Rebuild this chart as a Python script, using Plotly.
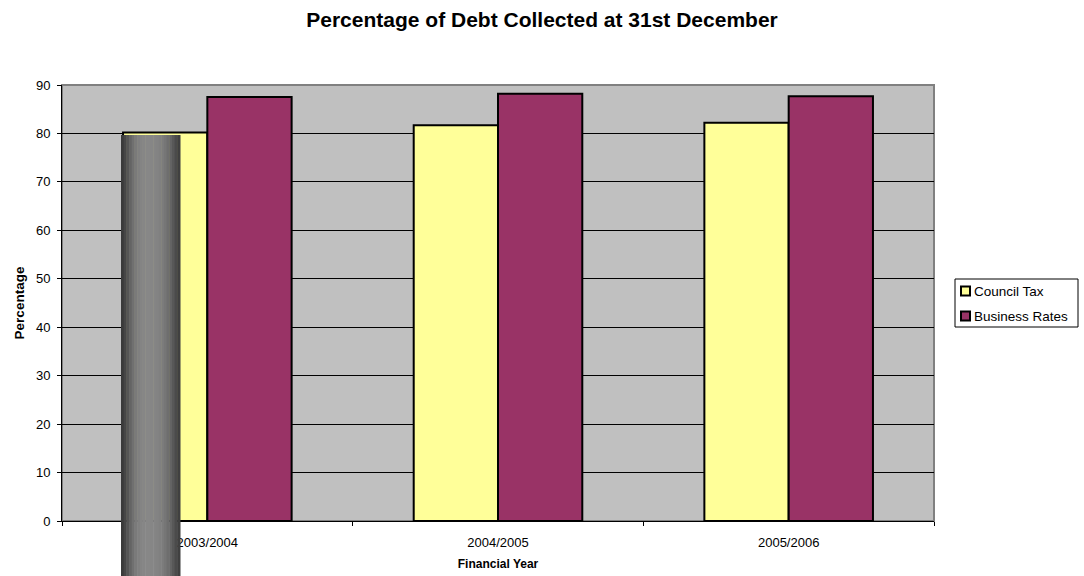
import plotly.graph_objects as go

categories = ["2003/2004", "2004/2005", "2005/2006"]
council_tax = [80.2, 81.7, 82.2]
business_rates = [87.5, 88.2, 87.7]
y_ticks = [0, 10, 20, 30, 40, 50, 60, 70, 80, 90]
series_names = ["Council Tax", "Business Rates"]
series_colors = ["#FFFF99", "#993366"]

W, H = 1084, 576
L, R, T, B = 62, 150, 85, 55
pw, ph = W - L - R, H - T - B


def px_x(p):
    return (p - L) / pw


def px_y(p):
    return (H - B - p) / ph


fig = go.Figure()
for name, vals, col in zip(series_names, [council_tax, business_rates], series_colors):
    fig.add_trace(go.Bar(x=categories, y=vals, name=name,
                         marker=dict(color=col, line=dict(color="black", width=2))))

# plot area border (top/right grey)
shapes = [dict(type="rect", xref="paper", yref="paper", x0=0, x1=1, y0=0, y1=1,
               line=dict(color="#808080", width=2), layer="below")]

# grey gradient overlay (screenshot artifact)
x_start, x_end = 121, 180
levels = [58, 70, 85, 100, 112, 122, 128, 132, 134, 135, 135, 134, 133, 131, 128, 124, 118,
          110, 100, 88, 75, 64]
n = len(levels)
step = (x_end - x_start) / n
for i, g in enumerate(levels):
    c = f"rgb({g},{g},{g})"
    shapes.append(dict(type="rect", xref="paper", yref="paper",
                       x0=px_x(x_start + i * step), x1=px_x(x_start + (i + 1) * step + 0.5),
                       y0=px_y(H + 2), y1=px_y(135),
                       fillcolor=c, line=dict(width=0), layer="above"))

# custom legend (box, swatches, text)
annotations = []
shapes.append(dict(type="rect", xref="paper", yref="paper",
                   x0=px_x(955), x1=px_x(1078), y0=px_y(327), y1=px_y(279),
                   line=dict(color="black", width=1), fillcolor="white"))
for i, (name, col) in enumerate(zip(series_names, series_colors)):
    cy = 291 + i * 25
    shapes.append(dict(type="rect", xref="paper", yref="paper",
                       x0=px_x(961), x1=px_x(970), y0=px_y(cy + 4.5), y1=px_y(cy - 4.5),
                       line=dict(color="black", width=2), fillcolor=col))
    annotations.append(dict(text=name, xref="paper", yref="paper",
                            x=px_x(972), y=px_y(cy), xanchor="left", yanchor="middle",
                            showarrow=False, font=dict(size=13.5)))

fig.update_layout(
    width=W, height=H,
    margin=dict(l=L, r=R, t=T, b=B),
    paper_bgcolor="white",
    plot_bgcolor="#C0C0C0",
    font=dict(family="Liberation Sans, Arial, sans-serif", size=13, color="black"),
    title=dict(text="<b>Percentage of Debt Collected at 31st December</b>",
               x=0.5, xref="container", y=1 - 20 / H, yref="container", yanchor="middle",
               font=dict(size=21)),
    barmode="group",
    bargap=0.42,
    bargroupgap=0,
    showlegend=False,
    xaxis=dict(title=dict(text="<b>Financial Year</b>", font=dict(size=12), standoff=11),
               showline=True, linecolor="black", linewidth=1,
               ticks="outside", tickson="boundaries", ticklen=4, tickcolor="black",
               ticklabelstandoff=9, showgrid=False, automargin=False),
    yaxis=dict(title=dict(text="<b>Percentage</b>", font=dict(size=13.5), standoff=8),
               range=[0, 90], tickvals=y_ticks,
               showline=True, linecolor="black", linewidth=1,
               ticks="outside", ticklen=4, tickcolor="black", ticklabelstandoff=4,
               showgrid=True, gridcolor="black", gridwidth=1, zeroline=False,
               automargin=False),
    shapes=shapes,
    annotations=annotations,
)

fig.write_html("out.html")
